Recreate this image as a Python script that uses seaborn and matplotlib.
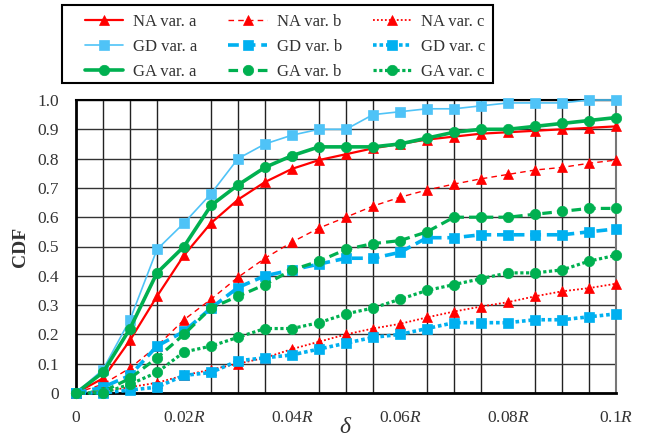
import numpy as np
import pandas as pd
import matplotlib
matplotlib.use("Agg")
import matplotlib.pyplot as plt
from matplotlib.patches import Rectangle
import seaborn as sns

# ---- data ----
delta = [0, 0.005, 0.01, 0.015, 0.02, 0.025, 0.03, 0.035, 0.04, 0.045, 0.05,
         0.055, 0.06, 0.065, 0.07, 0.075, 0.08, 0.085, 0.09, 0.095, 0.1]
NA_a = [0, 0.05, 0.18, 0.33, 0.47, 0.58, 0.66, 0.72, 0.765, 0.795, 0.815, 0.835, 0.85, 0.865, 0.875, 0.885, 0.89, 0.895, 0.90, 0.905, 0.91]
GD_a = [0, 0.08, 0.25, 0.49, 0.58, 0.68, 0.80, 0.85, 0.88, 0.90, 0.90, 0.95, 0.96, 0.97, 0.97, 0.98, 0.99, 0.99, 0.99, 1.0, 1.0]
GA_a = [0, 0.07, 0.22, 0.41, 0.50, 0.64, 0.71, 0.77, 0.81, 0.84, 0.84, 0.84, 0.85, 0.87, 0.89, 0.90, 0.90, 0.91, 0.92, 0.93, 0.94]
NA_b = [0, 0.03, 0.085, 0.16, 0.25, 0.32, 0.395, 0.46, 0.515, 0.563, 0.60, 0.638, 0.668, 0.693, 0.713, 0.731, 0.746, 0.761, 0.77, 0.784, 0.795]
GD_b = [0, 0.02, 0.06, 0.16, 0.21, 0.29, 0.36, 0.40, 0.42, 0.44, 0.46, 0.46, 0.48, 0.53, 0.53, 0.54, 0.54, 0.54, 0.54, 0.55, 0.56]
GA_b = [0, 0.005, 0.05, 0.12, 0.20, 0.29, 0.33, 0.37, 0.42, 0.45, 0.49, 0.51, 0.52, 0.55, 0.60, 0.60, 0.60, 0.61, 0.62, 0.63, 0.63]
NA_c = [0, 0.005, 0.02, 0.035, 0.06, 0.08, 0.10, 0.12, 0.15, 0.175, 0.20, 0.22, 0.236, 0.258, 0.278, 0.295, 0.31, 0.33, 0.347, 0.358, 0.373]
GD_c = [0, 0.0, 0.01, 0.02, 0.06, 0.07, 0.11, 0.12, 0.13, 0.15, 0.17, 0.19, 0.20, 0.22, 0.24, 0.24, 0.24, 0.25, 0.25, 0.26, 0.27]
GA_c = [0, 0.0, 0.03, 0.07, 0.14, 0.16, 0.19, 0.22, 0.22, 0.24, 0.27, 0.29, 0.32, 0.35, 0.37, 0.39, 0.41, 0.41, 0.42, 0.45, 0.47]

x_tick_values = [0, 0.02, 0.04, 0.06, 0.08, 0.1]
x_tick_labels = ["0", "0.02$R$", "0.04$R$", "0.06$R$", "0.08$R$", "0.1$R$"]
y_tick_values = [0, 0.1, 0.2, 0.3, 0.4, 0.5, 0.6, 0.7, 0.8, 0.9, 1.0]
y_tick_labels = ["0", "0.1", "0.2", "0.3", "0.4", "0.5", "0.6", "0.7", "0.8", "0.9", "1.0"]

# ---- style ----
sns.set_theme(style="white")
plt.rcParams["font.family"] = ["Liberation Serif", "DejaVu Serif"]
plt.rcParams["mathtext.fontset"] = "custom"
plt.rcParams["mathtext.rm"] = "Liberation Serif"
plt.rcParams["mathtext.it"] = "Liberation Serif:italic"

RED = "#FF0000"
BLUE = "#00B0F0"
LBLUE = "#4FC3F7"
GREEN = "#00B050"

series = [
    # name, data, color, linestyle, linewidth, marker, markersize
    ("NA var. a", NA_a, RED, "-", 1.6, "^", 7),
    ("GD var. a", GD_a, LBLUE, "-", 1.2, "s", 7.5),
    ("GA var. a", GA_a, GREEN, "-", 2.6, "o", 7.5),
    ("NA var. b", NA_b, RED, (0, (4, 3)), 1.0, "^", 7),
    ("GD var. b", GD_b, BLUE, (0, (3, 1.6)), 2.6, "s", 7.5),
    ("GA var. b", GA_b, GREEN, (0, (3, 1.6)), 2.3, "o", 7.5),
    ("NA var. c", NA_c, RED, (0, (1, 1.2)), 1.3, "^", 7),
    ("GD var. c", GD_c, BLUE, (0, (1, 0.8)), 2.6, "s", 7.5),
    ("GA var. c", GA_c, GREEN, (0, (1, 0.8)), 2.3, "o", 7.5),
]

fig = plt.figure(figsize=(6.51, 4.37), dpi=100)
ax = fig.add_axes([76 / 651, 44 / 437, 540 / 651, 293 / 437])

ax.set_xticks(delta, minor=True)
ax.grid(True, which="minor", axis="x", color="#222222", linewidth=1.0)
ax.grid(True, which="major", axis="y", color="#333333", linewidth=1.0)
ax.set_axisbelow(True)

handles = []
for name, vals, col, ls, lw, mk, ms in series:
    df = pd.DataFrame({"delta": delta, "cdf": vals})
    sns.lineplot(data=df, x="delta", y="cdf", ax=ax, color=col, linestyle=ls,
                 linewidth=lw, marker=mk, markersize=ms, markeredgecolor=col,
                 markerfacecolor=col, markeredgewidth=0.5, label=name,
                 clip_on=False, legend=False, zorder=3)
    handles.append(ax.lines[-1])

ax.set_xlim(0, 0.1)
ax.set_ylim(0, 1.0)
ax.set_xticks(x_tick_values)
ax.set_xticklabels(x_tick_labels)
ax.set_yticks(y_tick_values)
ax.set_yticklabels(y_tick_labels)
ax.tick_params(axis="x", which="both", direction="out", length=4, width=1,
               color="black", labelsize=12.5, pad=8, labelcolor="#333333")
ax.tick_params(axis="y", which="both", length=0, labelsize=12.5, pad=12,
               labelcolor="#333333")

for s in ["left", "bottom"]:
    ax.spines[s].set_color("black")
    ax.spines[s].set_linewidth(2.0)
ax.spines["top"].set_color("black")
ax.spines["top"].set_linewidth(1.5)
ax.spines["right"].set_color("#777777")
ax.spines["right"].set_linewidth(1.5)

ax.set_xlabel(r"$\delta$", fontsize=17, labelpad=-6, color="#333333")
ax.set_ylabel("CDF", fontsize=14, fontweight="bold", labelpad=6, color="#333333")

# legend frame drawn as its own box
fig.patches.append(Rectangle((62 / 651, 1 - 83 / 437), (493 - 62) / 651, 78 / 437,
                             transform=fig.transFigure, fill=False,
                             edgecolor="black", linewidth=1.5, zorder=5))
leg = fig.legend(handles=handles, labels=[s[0] for s in series],
                 loc="upper left", bbox_to_anchor=(85 / 651, 1 - 14 / 437),
                 ncol=3, fontsize=12, frameon=False,
                 handlelength=2.3, handletextpad=0.6, columnspacing=1.85,
                 labelspacing=0.55, borderpad=0, borderaxespad=0)
for t in leg.get_texts():
    t.set_color("#333333")

fig.savefig("out.png", dpi=100)
